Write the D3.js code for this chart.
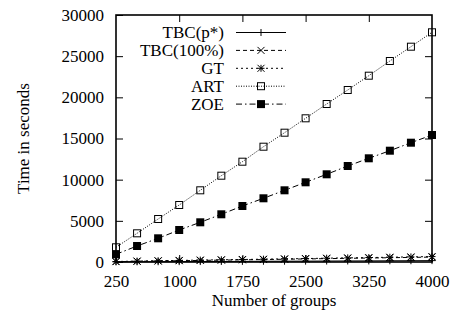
<!DOCTYPE html>
<html><head><meta charset="utf-8">
<script src="https://cdn.jsdelivr.net/npm/d3@7"></script>
<style>html,body{margin:0;padding:0;background:#fff;}svg{display:block;}</style>
</head><body>
<script>
const groups = [250,500,750,1000,1250,1500,1750,2000,2250,2500,2750,3000,3250,3500,3750,4000];
const tbcP   = [15,28,36,47,55,66,74,88,96,104,117,126,133,147,154,168];
const tbc100 = [45,82,118,155,190,228,262,298,336,372,410,446,482,520,556,598];
const gt     = [60,108,152,192,232,268,305,342,380,418,462,500,538,580,618,662];
const art    = [1785,3485,5222,6923,8708,10482,12182,14004,15705,17453,19190,20891,22628,24413,26150,27899];
const zoe    = [935,1943,2878,3887,4822,5794,6802,7737,8708,9680,10652,11660,12595,13518,14490,15425];
const xTicks = [250,1000,1750,2500,3250,4000];
const yTicks = [0,5000,10000,15000,20000,25000,30000];
const seriesNames = ["TBC(p*)","TBC(100%)","GT","ART","ZOE"];

const W=452,H=320, L=116,R=432,T=15,B=262;
const font='"Liberation Serif","Times New Roman",serif';
const svg=d3.select("body").append("svg").attr("width",W).attr("height",H);
const x=d3.scaleLinear().domain([250,4000]).range([L,R]);
const y=d3.scaleLinear().domain([0,30000]).range([B,T]);

const series=[
 {name:seriesNames[0],vals:tbcP,dash:null,mark:"plus"},
 {name:seriesNames[1],vals:tbc100,dash:"4,3",mark:"cross"},
 {name:seriesNames[2],vals:gt,dash:"2,3",mark:"star"},
 {name:seriesNames[3],vals:art,dash:"1,1.5",mark:"open"},
 {name:seriesNames[4],vals:zoe,dash:"6,3,1.5,3",mark:"filled"}
];

function marker(g,mk,cx,cy){
  const s=3.5;
  if(mk==="plus"||mk==="star"){
    g.append("line").attr("x1",cx-s).attr("x2",cx+s).attr("y1",cy).attr("y2",cy).attr("stroke","#000").attr("stroke-width",1);
    g.append("line").attr("x1",cx).attr("x2",cx).attr("y1",cy-s).attr("y2",cy+s).attr("stroke","#000").attr("stroke-width",1);
  }
  if(mk==="cross"||mk==="star"){
    g.append("line").attr("x1",cx-s).attr("x2",cx+s).attr("y1",cy-s).attr("y2",cy+s).attr("stroke","#000").attr("stroke-width",1);
    g.append("line").attr("x1",cx-s).attr("x2",cx+s).attr("y1",cy+s).attr("y2",cy-s).attr("stroke","#000").attr("stroke-width",1);
  }
  if(mk==="open"){
    g.append("rect").attr("x",cx-3.5).attr("y",cy-3.5).attr("width",7).attr("height",7).attr("fill","none").attr("stroke","#000").attr("stroke-width",1);
  }
  if(mk==="filled"){
    g.append("rect").attr("x",cx-4).attr("y",cy-4).attr("width",8).attr("height",8).attr("fill","#000");
  }
}

// axes (ticks inward, mirrored)
const axL=d3.axisLeft(y).tickValues(yTicks).tickSize(-7).tickPadding(12).tickFormat(d3.format("d"));
const axB=d3.axisBottom(x).tickValues(xTicks).tickSize(-7).tickPadding(13).tickFormat(d3.format("d"));
const axR=d3.axisRight(y).tickValues(yTicks.slice(1,-1)).tickSize(-7).tickFormat("");
const axT=d3.axisTop(x).tickValues(xTicks.slice(1,-1)).tickSize(-7).tickFormat("");
function style(g){g.selectAll("path").remove();g.selectAll("line").attr("stroke","#000").attr("stroke-width",1);
  g.selectAll("text").attr("font-family",font).attr("font-size",17).attr("fill","#000");}
svg.append("g").attr("transform",`translate(${L},0)`).call(axL).call(style);
svg.append("g").attr("transform",`translate(0,${B})`).call(axB).call(style);
svg.append("g").attr("transform",`translate(${R},0)`).call(axR).call(style);
svg.append("g").attr("transform",`translate(0,${T})`).call(axT).call(style);

// series
const line=d3.line().x((d,i)=>x(groups[i])).y(d=>y(d));
series.forEach(s=>{
  svg.append("path").datum(s.vals).attr("d",line).attr("fill","none").attr("stroke","#000").attr("stroke-width",1)
    .attr("stroke-dasharray",s.dash);
  const g=svg.append("g");
  s.vals.forEach((v,i)=>marker(g,s.mark,x(groups[i]),y(v)));
});

// frame
svg.append("rect").attr("x",L).attr("y",T).attr("width",R-L).attr("height",B-T).attr("fill","none").attr("stroke","#000").attr("stroke-width",1.6);

// legend
series.forEach((s,i)=>{
  const ly=32.5+i*17.9;
  svg.append("text").attr("x",224).attr("y",ly).attr("dy","0.33em").attr("text-anchor","end")
    .attr("font-family",font).attr("font-size",17).text(s.name);
  svg.append("line").attr("x1",236).attr("x2",286).attr("y1",ly).attr("y2",ly).attr("stroke","#000").attr("stroke-width",1)
    .attr("stroke-dasharray",s.dash);
  marker(svg.append("g"),s.mark,261,ly);
});

// axis titles
svg.append("text").attr("x",274).attr("y",306).attr("text-anchor","middle").attr("font-family",font).attr("font-size",17).text("Number of groups");
svg.append("text").attr("transform","translate(29,138.5) rotate(-90)").attr("text-anchor","middle").attr("font-family",font).attr("font-size",17).text("Time in seconds");
</script>
</body></html>
